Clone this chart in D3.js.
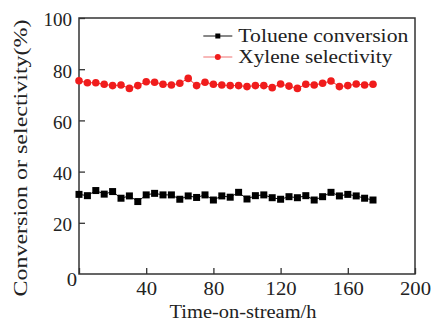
<!DOCTYPE html>
<html>
<head>
<meta charset="utf-8">
<script src="https://cdn.jsdelivr.net/npm/d3@7"></script>
<style>
  body { margin: 0; background: #fff; }
  svg text { font-family: "Liberation Serif", "Times New Roman", serif; fill: #222; }
</style>
</head>
<body>
<div id="chart"></div>
<script>
// time on stream (h)
const hours = [0, 5, 10, 15, 20, 25, 30, 35, 40, 45, 50, 55, 60, 65, 70, 75, 80, 85,
  90, 95, 100, 105, 110, 115, 120, 125, 130, 135, 140, 145, 150, 155, 160, 165, 170, 175];

const tolueneConversion = [31.1, 30.6, 32.6, 31.2, 32.2, 29.6, 30.5, 28.3, 30.9, 31.5, 30.9, 30.9,
  29.2, 30.5, 29.9, 30.9, 28.9, 30.5, 30.0, 31.9, 29.3, 30.6, 30.9, 29.8, 29.2, 30.2, 29.8, 30.6,
  28.9, 30.2, 31.9, 30.5, 31.1, 30.5, 29.6, 28.9];

const xyleneSelectivity = [75.5, 74.7, 74.7, 74.1, 73.6, 73.8, 72.5, 73.6, 75.1, 74.9, 74.1, 73.8,
  74.5, 76.4, 73.6, 74.9, 74.1, 73.8, 73.6, 73.6, 73.2, 73.6, 73.6, 72.8, 74.2, 73.4, 72.5, 74.1,
  73.8, 74.5, 75.4, 73.2, 73.6, 74.2, 73.8, 74.1];

const seriesNames = ['Toluene conversion', 'Xylene selectivity'];
const xTicks = [0, 40, 80, 120, 160, 200];
const yTicks = [20, 40, 60, 80, 100];

const width = 434, height = 329;
const margin = { top: 18, right: 19, bottom: 55, left: 79 };
const innerW = width - margin.left - margin.right;
const innerH = height - margin.top - margin.bottom;

const svg = d3.select('#chart').append('svg')
  .attr('width', width)
  .attr('height', height);

const g = svg.append('g').attr('transform', `translate(${margin.left},${margin.top})`);

const x = d3.scaleLinear().domain([0, 200]).range([0, innerW]);
const y = d3.scaleLinear().domain([0, 100]).range([innerH, 0]);

// frame
g.append('rect')
  .attr('width', innerW)
  .attr('height', innerH)
  .attr('fill', 'none')
  .attr('stroke', '#333')
  .attr('stroke-width', 1.5);

// axes with inward ticks
const xAxis = d3.axisBottom(x).tickValues(xTicks).tickSizeInner(-6).tickSizeOuter(0).tickPadding(8);
const yAxis = d3.axisLeft(y).tickValues(yTicks).tickSizeInner(-6).tickSizeOuter(0).tickPadding(7);

const xAxisG = g.append('g').attr('transform', `translate(0,${innerH})`).call(xAxis);
const yAxisG = g.append('g').call(yAxis);

[xAxisG, yAxisG].forEach(a => {
  a.select('.domain').remove();
  a.selectAll('.tick line').attr('stroke', '#333').attr('stroke-width', 1.3);
  a.selectAll('.tick text')
    .attr('font-family', '"Liberation Serif", serif')
    .attr('font-size', 19)
    .attr('fill', '#222');
});
xAxisG.selectAll('.tick text').attr('font-size', 18).attr('transform', 'scale(1.15,1)');
xAxisG.selectAll('.tick text').filter(d => d === 0).attr('dx', -6.5).attr('dy', '0.2em');
yAxisG.selectAll('.tick text').attr('dy', '0.42em');

// axis labels
g.append('text')
  .attr('text-anchor', 'middle')
  .attr('x', 164)
  .attr('y', innerH + 44)
  .attr('font-size', 19)
  .attr('textLength', 147)
  .attr('lengthAdjust', 'spacingAndGlyphs')
  .text('Time-on-stream/h');

g.append('text')
  .attr('text-anchor', 'middle')
  .attr('transform', 'rotate(-90)')
  .attr('x', -140)
  .attr('y', -52)
  .attr('font-size', 19)
  .attr('textLength', 277)
  .attr('lengthAdjust', 'spacingAndGlyphs')
  .text('Conversion or selectivity(%)');

// lines and markers
const line = d3.line().x(d => x(d[0])).y(d => y(d[1]));

const tolData = hours.map((h, i) => [h, tolueneConversion[i]]);
const xylData = hours.map((h, i) => [h, xyleneSelectivity[i]]);

g.append('path')
  .attr('d', line(tolData))
  .attr('fill', 'none')
  .attr('stroke', '#111')
  .attr('stroke-width', 1);

g.append('path')
  .attr('d', line(xylData))
  .attr('fill', 'none')
  .attr('stroke', '#f03030')
  .attr('stroke-width', 1);

g.selectAll('.tol-pt')
  .data(tolData)
  .join('rect')
  .attr('class', 'tol-pt')
  .attr('x', d => x(d[0]) - 3.5)
  .attr('y', d => y(d[1]) - 3.5)
  .attr('width', 7)
  .attr('height', 7)
  .attr('fill', '#000');

g.selectAll('.xyl-pt')
  .data(xylData)
  .join('circle')
  .attr('class', 'xyl-pt')
  .attr('cx', d => x(d[0]))
  .attr('cy', d => y(d[1]))
  .attr('r', 3.8)
  .attr('fill', '#f01c1c');

// legend
const legendLengths = [170, 154];
const legend = g.append('g').attr('transform', `translate(${x(74)},${18})`);
seriesNames.forEach((name, i) => {
  const row = legend.append('g').attr('transform', `translate(0,${i * 21})`);
  row.append('line')
    .attr('x1', 0).attr('x2', 29)
    .attr('stroke', i === 0 ? '#111' : '#f07070')
    .attr('stroke-width', 1);
  if (i === 0) {
    row.append('rect').attr('x', 12).attr('y', -2.5).attr('width', 5).attr('height', 5).attr('fill', '#000');
  } else {
    row.append('circle').attr('cx', 14.5).attr('r', 3).attr('fill', '#f01c1c');
  }
  row.append('text')
    .attr('x', 35)
    .attr('dy', '0.33em')
    .attr('font-size', 19)
    .attr('textLength', legendLengths[i])
    .attr('lengthAdjust', 'spacingAndGlyphs')
    .text(name);
});
</script>
</body>
</html>
